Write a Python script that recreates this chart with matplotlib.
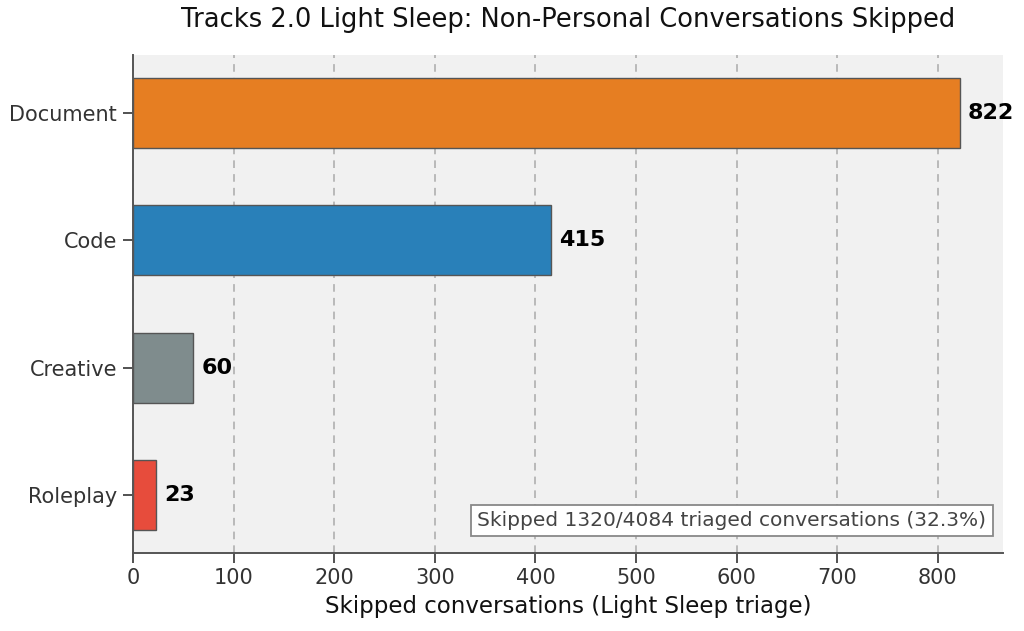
import matplotlib
matplotlib.use("Agg")
import matplotlib.pyplot as plt

categories = ["Document", "Code", "Creative", "Roleplay"]
values = [822, 415, 60, 23]
colors = ["#e67e22", "#2980b9", "#7f8c8d", "#e74c3c"]
skipped_total = 1320
triaged_total = 4084

fig = plt.figure(figsize=(10.24, 6.31), dpi=100)
ax = fig.add_axes([0.130, 0.1236, 0.8495, 0.7892])
ax.set_facecolor("#f1f1f1")

ypos = list(range(len(categories)))
ax.barh(ypos, values, height=0.55, color=colors, edgecolor="#555555", linewidth=1.0, zorder=3)
ax.set_yticks(ypos)
ax.set_yticklabels(categories, fontsize=15, color="#333333")
ax.invert_yaxis()

ax.set_xlim(0, max(values) * 1.052)
ax.set_xticks(range(0, 900, 100))
ax.tick_params(axis="x", labelsize=15, colors="#333333", length=7, width=1.2)
ax.tick_params(axis="y", length=7, width=1.2, colors="#333333", pad=4.5)

ax.grid(axis="x", linestyle=(0, (5, 4)), color="#aaaaaa", linewidth=1.1, zorder=0)
ax.set_axisbelow(True)

for s in ["top", "right"]:
    ax.spines[s].set_visible(False)
for s in ["left", "bottom"]:
    ax.spines[s].set_color("#555555")
    ax.spines[s].set_linewidth(1.4)

for y, v in zip(ypos, values):
    ax.text(v + 8, y, f"{v}", va="center", ha="left", fontsize=16, fontweight="bold", color="black")

ax.set_xlabel("Skipped conversations (Light Sleep triage)", fontsize=16.5, color="#111111", labelpad=5)
ax.set_title("Tracks 2.0 Light Sleep: Non-Personal Conversations Skipped", fontsize=18.5, pad=20, color="#111111")

pct = skipped_total / triaged_total * 100
ax.text(0.981, 0.066, f"Skipped {skipped_total}/{triaged_total} triaged conversations ({pct:.1f}%)",
        transform=ax.transAxes, ha="right", va="center", fontsize=14.5, color="#444444",
        bbox=dict(boxstyle="square,pad=0.3", facecolor="white", edgecolor="#888888", linewidth=1.3))

fig.savefig("out.png", dpi=100)
